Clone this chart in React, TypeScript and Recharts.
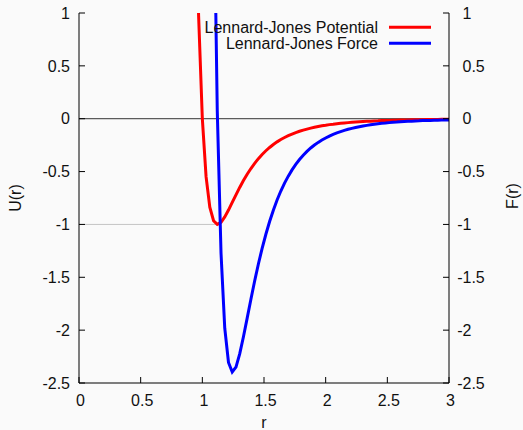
import React from 'react';
import { LineChart, Line, XAxis, YAxis, ReferenceLine } from 'recharts';

// sample positions r (gnuplot default 100 samples over [0,3], visible part)
const rValues = [
  0.9394, 0.9697, 1.0, 1.0303, 1.0606, 1.0909, 1.1212, 1.1515, 1.1818, 1.2121,
  1.2424, 1.2727, 1.303, 1.3333, 1.3636, 1.3939, 1.4242, 1.4545, 1.4848, 1.5152,
  1.5455, 1.5758, 1.6061, 1.6364, 1.6667, 1.697, 1.7273, 1.7576, 1.7879, 1.8182,
  1.8485, 1.8788, 1.9091, 1.9394, 1.9697, 2.0, 2.0303, 2.0606, 2.0909, 2.1212,
  2.1515, 2.1818, 2.2121, 2.2424, 2.2727, 2.303, 2.3333, 2.3636, 2.3939, 2.4242,
  2.4545, 2.4848, 2.5152, 2.5455, 2.5758, 2.6061, 2.6364, 2.6667, 2.697, 2.7273,
  2.7576, 2.7879, 2.8182, 2.8485, 2.8788, 2.9091, 2.9394, 2.9697, 3.0,
];

const potential = [
  2.649, 0.976, 0, -0.548, -0.836, -0.965, -1.0, -0.98, -0.929, -0.864,
  -0.792, -0.72, -0.65, -0.585, -0.525, -0.471, -0.422, -0.378, -0.338, -0.303,
  -0.272, -0.244, -0.219, -0.197, -0.178, -0.16, -0.145, -0.131, -0.119, -0.108,
  -0.098, -0.089, -0.081, -0.074, -0.067, -0.062, -0.056, -0.052, -0.047, -0.043,
  -0.04, -0.037, -0.034, -0.031, -0.029, -0.027, -0.025, -0.023, -0.021, -0.02,
  -0.018, -0.017, -0.016, -0.015, -0.014, -0.013, -0.012, -0.011, -0.01, -0.01,
  -0.009, -0.009, -0.008, -0.008, -0.007, -0.007, -0.006, -0.006, -0.006,
];

const force = [
  71.02, 41.84, 24, 13.087, 6.44, 2.435, 0.072, -1.271, -1.982, -2.306,
  -2.396, -2.349, -2.225, -2.063, -1.886, -1.707, -1.535, -1.374, -1.227, -1.093,
  -0.972, -0.865, -0.769, -0.684, -0.609, -0.543, -0.484, -0.432, -0.386, -0.345,
  -0.309, -0.277, -0.249, -0.224, -0.202, -0.182, -0.164, -0.148, -0.134, -0.122,
  -0.11, -0.1, -0.091, -0.083, -0.076, -0.069, -0.063, -0.058, -0.053, -0.048,
  -0.044, -0.041, -0.037, -0.034, -0.032, -0.029, -0.027, -0.025, -0.023, -0.021,
  -0.02, -0.018, -0.017, -0.016, -0.015, -0.014, -0.013, -0.012, -0.011,
];

const xTicks = [0, 0.5, 1, 1.5, 2, 2.5, 3];
const yTicks = [1, 0.5, 0, -0.5, -1, -1.5, -2, -2.5];
const minimumR = 1.1225;
const seriesNames = ['Lennard-Jones Potential', 'Lennard-Jones Force'];
const seriesColors = ['#ff0000', '#0000ff'];

const rows = rValues.map((r, i) => ({ r, U: potential[i], F: force[i] }));

const FONT = '"Liberation Sans", Arial, Helvetica, sans-serif';
const TXT = '#111';
const W = 523;
const H = 430;

const BottomTick = (props: any) => {
  const { x, y, payload } = props;
  return (
    <g>
      <line x1={x} x2={x} y1={y} y2={y - 6} stroke="#000" strokeWidth={1} />
      <text x={x + 1.5} y={y + 23} textAnchor="middle" fontSize={16} fill={TXT}>
        {String(payload.value)}
      </text>
    </g>
  );
};

const TopTick = (props: any) => {
  const { x, y } = props;
  return <line x1={x} x2={x} y1={y} y2={y + 6} stroke="#000" strokeWidth={1} />;
};

const LeftTick = (props: any) => {
  const { x, y, payload } = props;
  return (
    <g>
      <line x1={x} x2={x + 6} y1={y} y2={y} stroke="#000" strokeWidth={1} />
      <text x={x - 9} y={y} dy="0.36em" textAnchor="end" fontSize={16} fill={TXT}>
        {String(payload.value)}
      </text>
    </g>
  );
};

const RightTick = (props: any) => {
  const { x, y, payload } = props;
  const v = payload.value as number;
  const neg = v < 0;
  return (
    <g>
      <line x1={x} x2={x - 6} y1={y} y2={y} stroke="#000" strokeWidth={1} />
      <text x={x + 13.5} y={y} dy="0.36em" textAnchor="start" fontSize={16} fill={TXT}>
        {String(Math.abs(v))}
      </text>
      {neg && (
        <text x={x + 13.5} y={y} dy="0.36em" textAnchor="end" fontSize={16} fill={TXT}>
          -
        </text>
      )}
    </g>
  );
};

export default function App() {
  return (
    <div
      style={{
        position: 'absolute',
        left: 0,
        top: 0,
        width: W,
        height: H,
        overflow: 'hidden',
        background: '#fafafa',
        fontFamily: FONT,
      }}
    >
      <LineChart
        width={W}
        height={H}
        data={rows}
        margin={{ top: 13, right: 0, bottom: 0, left: 0 }}
      >
        <XAxis
          xAxisId="b"
          dataKey="r"
          type="number"
          domain={[0, 3]}
          ticks={xTicks}
          interval={0}
          allowDataOverflow
          height={47}
          tickSize={0}
          tickMargin={0}
          tickLine={false}
          tick={<BottomTick />}
          axisLine={{ stroke: '#000', strokeWidth: 1 }}
          label={{ value: 'r', position: 'insideBottom', offset: 2, fill: TXT, fontSize: 16 }}
        />
        <XAxis
          xAxisId="t"
          orientation="top"
          dataKey="r"
          type="number"
          domain={[0, 3]}
          ticks={xTicks}
          interval={0}
          allowDataOverflow
          height={0}
          tickSize={0}
          tickMargin={0}
          tickLine={false}
          tick={<TopTick />}
          axisLine={{ stroke: '#000', strokeWidth: 1 }}
        />
        <YAxis
          yAxisId="l"
          type="number"
          domain={[-2.5, 1]}
          ticks={yTicks}
          interval={0}
          allowDataOverflow
          width={79}
          tickSize={0}
          tickMargin={0}
          tickLine={false}
          tick={<LeftTick />}
          axisLine={{ stroke: '#000', strokeWidth: 1 }}
          label={{
            value: 'U(r)',
            angle: -90,
            position: 'insideLeft',
            offset: 15,
            textAnchor: 'middle',
            fill: TXT,
            fontSize: 16,
          }}
        />
        <YAxis
          yAxisId="r"
          orientation="right"
          type="number"
          domain={[-2.5, 1]}
          ticks={yTicks}
          interval={0}
          allowDataOverflow
          width={74}
          tickSize={0}
          tickMargin={0}
          tickLine={false}
          tick={<RightTick />}
          axisLine={{ stroke: '#000', strokeWidth: 1 }}
        />
        <ReferenceLine xAxisId="b" yAxisId="l" y={0} stroke="#333" strokeWidth={1} />
        <ReferenceLine
          xAxisId="b"
          yAxisId="l"
          segment={[
            { x: 0, y: -1 },
            { x: minimumR, y: -1 },
          ]}
          stroke="#c4c4c4"
          strokeWidth={1}
        />
        <Line
          xAxisId="b"
          yAxisId="l"
          dataKey="U"
          stroke={seriesColors[0]}
          strokeWidth={3}
          dot={false}
          activeDot={false}
          isAnimationActive={false}
        />
        <Line
          xAxisId="b"
          yAxisId="r"
          dataKey="F"
          stroke={seriesColors[1]}
          strokeWidth={3}
          dot={false}
          activeDot={false}
          isAnimationActive={false}
        />
      </LineChart>
      <svg
        width={W}
        height={H}
        style={{ position: 'absolute', left: 0, top: 0, pointerEvents: 'none' }}
      >
        <text
          transform="translate(512,196) rotate(-90)"
          textAnchor="middle"
          dy="0.36em"
          fontSize={16}
          fill={TXT}
        >
          F(r)
        </text>
        {seriesNames.map((name, i) => (
          <g key={name}>
            <text x={378} y={32.5 + i * 16} textAnchor="end" fontSize={16} fill={TXT}>
              {name}
            </text>
            <line
              x1={389}
              x2={431}
              y1={27.3 + i * 16}
              y2={27.3 + i * 16}
              stroke={seriesColors[i]}
              strokeWidth={3}
            />
          </g>
        ))}
      </svg>
    </div>
  );
}
